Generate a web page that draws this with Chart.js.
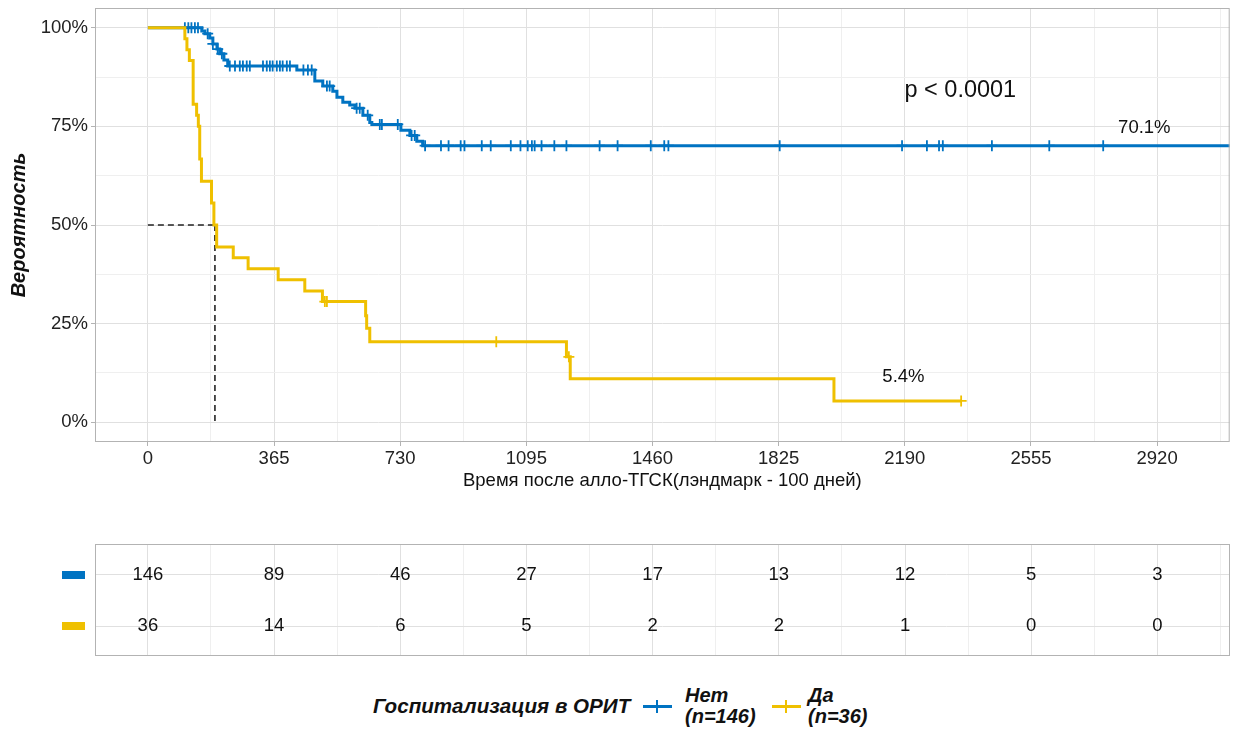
<!DOCTYPE html>
<html>
<head>
<meta charset="utf-8">
<script src="https://cdn.jsdelivr.net/npm/chart.js@4.4.1/dist/chart.umd.min.js"></script>
<style>
   body { margin: 0; background: #fff; width: 1237px; height: 733px; overflow: hidden; position: relative;
          font-family: "Liberation Sans", Arial, sans-serif; }
   canvas { position: absolute; left: 0; }
   #main { top: 0; }
   #risk { top: 500px; }
   .leg { position: absolute; font-weight: bold; font-style: italic; font-size: 20px; color: #111; line-height: 21px; }
   .sym { position: absolute; }
</style>
</head>
<body>
<canvas id="main" width="1237" height="500"></canvas>
<canvas id="risk" width="1237" height="175"></canvas>

<div class="leg" style="left:373px; top:695px; font-size:20.6px;">Госпитализация в ОРИТ</div>
<div class="sym" style="left:643px; top:705px; width:29px; height:3px; background:#0073C2;"></div>
<div class="sym" style="left:656px; top:700px; width:2px; height:13px; background:#0073C2;"></div>
<div class="leg" style="left:685px; top:685px;">Нет<br>(n=146)</div>
<div class="sym" style="left:772px; top:705px; width:29px; height:3px; background:#EFC000;"></div>
<div class="sym" style="left:785px; top:700px; width:2px; height:13px; background:#EFC000;"></div>
<div class="leg" style="left:808px; top:685px;">Да<br>(n=36)</div>

<script>
const colorNo = '#0073C2';
const colorYes = '#EFC000';

// axis ticks
const dayTicks = [0, 365, 730, 1095, 1460, 1825, 2190, 2555, 2920];
const pctTicks = [0, 0.25, 0.5, 0.75, 1];

// "Нет" curve: step times (days) and survival after each step
const noTimes = [0, 156, 165, 179, 188, 200, 208, 220, 231, 431, 483, 506, 535, 547, 564, 584, 599, 622, 642, 648, 732, 758, 778, 795, 3300];
const noSurv = [1, 0.992, 0.985, 0.974, 0.959, 0.946, 0.934, 0.918, 0.903, 0.893, 0.865, 0.852, 0.839, 0.824, 0.811, 0.804, 0.796, 0.778, 0.760, 0.755, 0.740, 0.727, 0.712, 0.701, 0.701];
const noCensor = [107, 117, 126, 136, 145, 173, 188, 202, 214,
   237, 252, 266, 275, 286, 295, 333, 344, 353, 361, 373, 382, 390, 402, 411,
   450, 463, 474, 518, 526, 604, 613, 636, 671, 677, 723, 763, 772,
   802, 848, 870, 905, 916, 966, 992, 1050, 1078, 1099, 1111, 1119, 1139, 1176, 1211,
   1307, 1359, 1455, 1494, 1506, 1828, 2182, 2254, 2289, 2300, 2442, 2608, 2764];

// "Да" curve
const yesTimes = [0, 107, 113, 120, 131, 141, 146, 150, 155, 184, 191, 199, 247, 290, 377, 454, 505, 630, 633, 642, 1211, 1222, 1985, 2353];
const yesSurv = [1, 0.972, 0.944, 0.917, 0.806, 0.778, 0.75, 0.667, 0.611, 0.556, 0.5, 0.444, 0.417, 0.389, 0.361, 0.333, 0.306, 0.27, 0.238, 0.204, 0.166, 0.11, 0.054, 0.054];
const yesCensor = [512, 518, 1008, 1218, 2353];

const medianDay = 194;

// number at risk
const riskNo = [146, 89, 46, 27, 17, 13, 12, 5, 3];
const riskYes = [36, 14, 6, 5, 2, 2, 1, 0, 0];

// text annotations [text, day, value, align, size]
const notes = [
   ['p < 0.0001', 2189, 0.842, 'left', 23.5],
   ['70.1%', 2883, 0.747, 'center', 18.5],
   ['5.4%', 2186, 0.115, 'center', 18.5],
];

Chart.defaults.font.family = "'Liberation Sans', Arial, sans-serif";
Chart.defaults.color = '#222';

const majorGrid = '#e0e0e0';
const minorGrid = '#efefef';
const frame = '#b3b3b3';

function survAt(times, surv, t) {
   let s = surv[0];
   for (let i = 0; i < times.length; i++) {
      if (times[i] <= t) s = surv[i];
   }
   return s;
}
function pairs(xs, ys) {
   return xs.map((x, i) => ({ x: x, y: ys[i] }));
}
function censorPoints(censor, times, surv) {
   return censor.map(t => ({ x: t, y: survAt(times, surv, t) }));
}
function withHalves(list) {
   const step = list[1] - list[0];
   const out = [];
   list.forEach(v => { out.push(v); out.push(v + step / 2); });
   return out;
}
const isMajorDay = v => dayTicks.includes(v);
const isMajorPct = v => pctTicks.some(p => Math.abs(p - v) < 1e-9);

const xMin = -153, xMax = 3130;

const frameBox = {
   id: 'frameBox',
   afterDraw(chart) {
      const a = chart.chartArea;
      const ctx = chart.ctx;
      ctx.save();
      ctx.strokeStyle = frame;
      ctx.lineWidth = 1;
      ctx.strokeRect(a.left + 0.5, a.top + 0.5, a.right - a.left - 1, a.bottom - a.top - 1);
      ctx.restore();
   }
};

const notesPlugin = {
   id: 'notes',
   afterDatasetsDraw(chart) {
      const ctx = chart.ctx;
      const xs = chart.scales.x, ys = chart.scales.y;
      ctx.save();
      ctx.fillStyle = '#111';
      ctx.textBaseline = 'middle';
      notes.forEach(n => {
         ctx.font = `${n[4]}px 'Liberation Sans', Arial, sans-serif`;
         ctx.textAlign = n[3];
         ctx.fillText(n[0], xs.getPixelForValue(n[1]), ys.getPixelForValue(n[2]));
      });
      ctx.restore();
   }
};

const mainChart = new Chart(document.querySelector('#main'), {
   type: 'line',
   data: {
      datasets: [
         {
            label: 'Да',
            data: pairs(yesTimes, yesSurv),
            borderColor: colorYes,
            borderWidth: 3,
            stepped: true,
            pointRadius: 0,
            order: 1
         },
         {
            label: 'Да censor',
            data: censorPoints(yesCensor, yesTimes, yesSurv),
            showLine: false,
            pointStyle: 'cross',
            pointRadius: 5.5,
            pointBorderWidth: 1.8,
            pointBorderColor: colorYes,
            order: 0
         },
         {
            label: 'Нет',
            data: pairs(noTimes, noSurv),
            borderColor: colorNo,
            borderWidth: 3,
            stepped: true,
            pointRadius: 0,
            order: 3
         },
         {
            label: 'Нет censor',
            data: censorPoints(noCensor, noTimes, noSurv),
            showLine: false,
            pointStyle: 'cross',
            pointRadius: 5.5,
            pointBorderWidth: 1.8,
            pointBorderColor: colorNo,
            order: 2
         },
         {
            label: 'median h',
            data: [{ x: 0, y: 0.5 }, { x: medianDay, y: 0.5 }],
            borderColor: '#222',
            borderWidth: 1.6,
            borderDash: [6, 4],
            pointRadius: 0,
            order: 4
         },
         {
            label: 'median v',
            data: [{ x: medianDay, y: 0.5 }, { x: medianDay, y: 0 }],
            borderColor: '#222',
            borderWidth: 1.6,
            borderDash: [6, 4],
            pointRadius: 0,
            order: 4
         }
      ]
   },
   options: {
      responsive: false,
      animation: false,
      devicePixelRatio: 1,
      layout: { padding: { left: 0, right: 7, top: 8, bottom: 0 } },
      plugins: {
         legend: { display: false },
         tooltip: { enabled: false }
      },
      scales: {
         x: {
            type: 'linear',
            min: xMin,
            max: xMax,
            afterBuildTicks: s => { s.ticks = withHalves(dayTicks).map(v => ({ value: v })); },
            afterFit: s => { s.height = 58; },
            border: { display: false },
            grid: {
               color: c => isMajorDay(c.tick.value) ? majorGrid : minorGrid,
               tickColor: c => isMajorDay(c.tick.value) ? frame : 'rgba(0,0,0,0)',
               tickLength: 4
            },
            ticks: {
               autoSkip: false,
               maxRotation: 0,
               padding: 2,
               color: '#222',
               font: { size: 18.5 },
               callback: v => isMajorDay(v) ? String(v) : ''
            },
            title: {
               display: true,
               text: 'Время после алло-ТГСК(лэндмарк - 100 дней)',
               color: '#111',
               font: { size: 18.5 },
               padding: { top: 0, bottom: 8 }
            }
         },
         y: {
            type: 'linear',
            min: -0.05,
            max: 1.05,
            afterBuildTicks: s => { s.ticks = withHalves(pctTicks).slice(0, 9).map(v => ({ value: v })); },
            afterFit: s => { s.width = 95; s.paddingTop = 0; s.paddingBottom = 0; },
            border: { display: false },
            grid: {
               color: c => isMajorPct(c.tick.value) ? majorGrid : minorGrid,
               tickColor: c => isMajorPct(c.tick.value) ? frame : 'rgba(0,0,0,0)',
               tickLength: 4
            },
            ticks: {
               autoSkip: false,
               padding: 3,
               color: '#222',
               font: { size: 18.5 },
               callback: v => isMajorPct(v) ? Math.round(v * 100) + '%' : ''
            },
            title: {
               display: true,
               text: 'Вероятность',
               color: '#111',
               font: { size: 20, weight: 'bold', style: 'italic' },
               padding: { top: 7, bottom: 0 }
            }
         }
      }
   },
   plugins: [frameBox, notesPlugin]
});

// risk table
const riskText = {
   id: 'riskText',
   afterDatasetsDraw(chart) {
      const ctx = chart.ctx;
      const xs = chart.scales.x, ys = chart.scales.y;
      ctx.save();
      ctx.font = "18.5px 'Liberation Sans', Arial, sans-serif";
      ctx.fillStyle = '#111';
      ctx.textAlign = 'center';
      ctx.textBaseline = 'middle';
      dayTicks.forEach((d, i) => {
         ctx.fillText(String(riskNo[i]), xs.getPixelForValue(d), ys.getPixelForValue(2));
         ctx.fillText(String(riskYes[i]), xs.getPixelForValue(d), ys.getPixelForValue(1));
      });
      // strata colour keys instead of y labels
      [[2, colorNo], [1, colorYes]].forEach(r => {
         const y = ys.getPixelForValue(r[0]);
         ctx.fillStyle = r[1];
         ctx.fillRect(62, Math.round(y) - 4, 23, 8);
      });
      ctx.restore();
   }
};

const riskChart = new Chart(document.querySelector('#risk'), {
   type: 'scatter',
   data: {
      datasets: [{
         data: dayTicks.map(d => ({ x: d, y: 2 })),
         pointRadius: 0
      }]
   },
   options: {
      responsive: false,
      animation: false,
      devicePixelRatio: 1,
      layout: { padding: { left: 0, right: 7, top: 44, bottom: 0 } },
      plugins: {
         legend: { display: false },
         tooltip: { enabled: false }
      },
      scales: {
         x: {
            type: 'linear',
            min: xMin,
            max: xMax,
            afterBuildTicks: s => { s.ticks = withHalves(dayTicks).map(v => ({ value: v })); },
            afterFit: s => { s.height = 19; },
            border: { display: false },
            grid: {
               color: c => isMajorDay(c.tick.value) ? majorGrid : minorGrid,
               drawTicks: false
            },
            ticks: { display: false }
         },
         y: {
            type: 'linear',
            min: 0.42,
            max: 2.6,
            afterBuildTicks: s => { s.ticks = [{ value: 1 }, { value: 2 }]; },
            afterFit: s => { s.width = 95; },
            border: { display: false },
            grid: { color: majorGrid, drawTicks: false },
            ticks: { display: false }
         }
      }
   },
   plugins: [frameBox, riskText]
});
</script>
</body>
</html>
